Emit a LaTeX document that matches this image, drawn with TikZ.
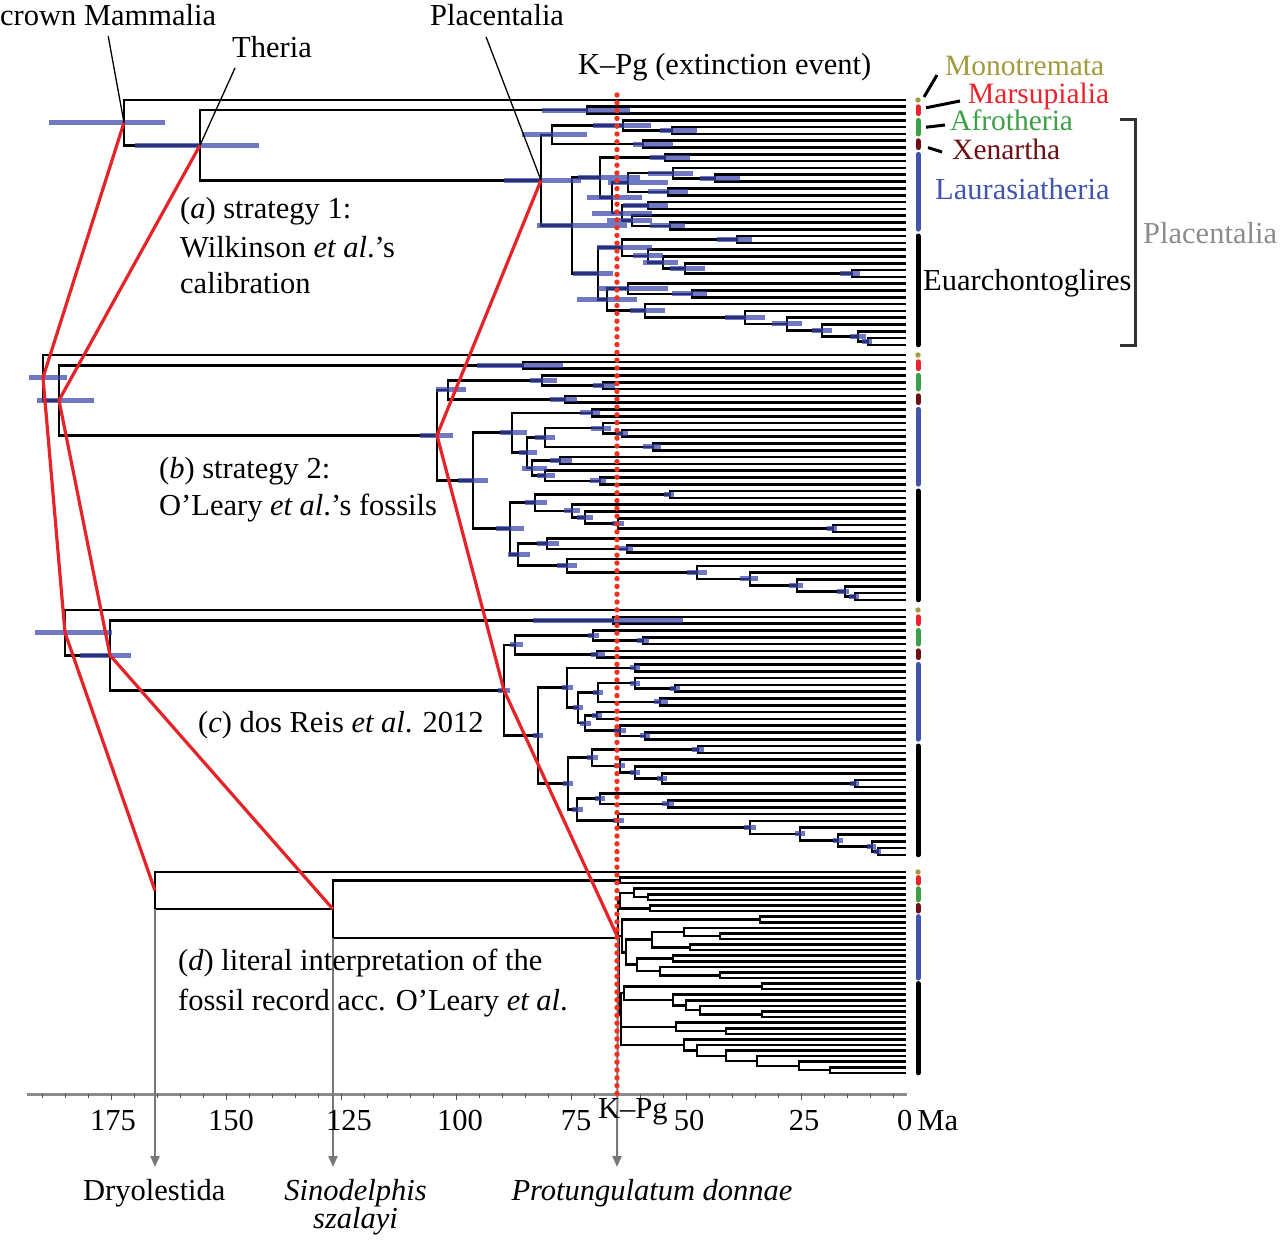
\documentclass[tikz,border=0pt]{standalone}
\usepackage{fontspec}
\setmainfont{Liberation Serif}
\usetikzlibrary{calc,arrows.meta}
\definecolor{hpdblue}{RGB}{55,68,170}
\definecolor{redline}{RGB}{230,35,40}
\definecolor{kpgred}{RGB}{240,50,30}
\definecolor{monocol}{RGB}{160,155,60}
\definecolor{marscol}{RGB}{235,35,45}
\definecolor{afrocol}{RGB}{60,160,70}
\definecolor{xencol}{RGB}{110,15,20}
\definecolor{laucol}{RGB}{65,85,175}
\definecolor{placgray}{RGB}{140,140,140}
\definecolor{bracketgray}{RGB}{50,50,50}
\definecolor{axisgray}{RGB}{140,140,140}
\definecolor{tickgray}{RGB}{80,80,80}
\definecolor{arrowgray}{RGB}{120,120,120}

\newcommand\setxs[1]{\foreach \n/\v in {#1}{\expandafter\xdef\csname xv\n\endcsname{\v}}}
\newcommand\xv[1]{\csname xv#1\endcsname}
\newcommand\inode[4]{%
  \path ($(#3)!0.5!(#4)$) coordinate (#1-m);
  \edef\tmpx{#2}%
  \coordinate (#1) at (\tmpx,0 |- #1-m);
  \draw[br] (#3) -| (#1) |- (#4);
}
\newcommand\maketree[3]{%
  \foreach \i in {0,...,36}{\coordinate (#1-t\i) at (906,{#2+#3*\i});}
  \inode{#1-MAR}{\xv{MAR}}{#1-t1}{#1-t2}
  \inode{#1-A45}{\xv{A45}}{#1-t4}{#1-t5}
  \inode{#1-AFR}{\xv{AFR}}{#1-t3}{#1-A45}
  \inode{#1-XEN}{\xv{XEN}}{#1-t6}{#1-t7}
  \inode{#1-ATL}{\xv{ATL}}{#1-AFR}{#1-XEN}
  \inode{#1-LA}{\xv{LA}}{#1-t8}{#1-t9}
  \inode{#1-LC1b}{\xv{LC1b}}{#1-t11}{#1-t12}
  \inode{#1-LC1}{\xv{LC1}}{#1-t10}{#1-LC1b}
  \inode{#1-LC2}{\xv{LC2}}{#1-t13}{#1-t14}
  \inode{#1-LC}{\xv{LC}}{#1-LC1}{#1-LC2}
  \inode{#1-LD1}{\xv{LD1}}{#1-t15}{#1-t16}
  \inode{#1-LD3}{\xv{LD3}}{#1-t18}{#1-t19}
  \inode{#1-LD2}{\xv{LD2}}{#1-t17}{#1-LD3}
  \inode{#1-LD}{\xv{LD}}{#1-LD1}{#1-LD2}
  \inode{#1-LB}{\xv{LB}}{#1-LC}{#1-LD}
  \inode{#1-LAU}{\xv{LAU}}{#1-LA}{#1-LB}
  \inode{#1-E1a}{\xv{E1a}}{#1-t20}{#1-t21}
  \inode{#1-E1e}{\xv{E1e}}{#1-t25}{#1-t26}
  \inode{#1-E1d}{\xv{E1d}}{#1-t24}{#1-E1e}
  \inode{#1-E1c}{\xv{E1c}}{#1-t23}{#1-E1d}
  \inode{#1-E1b}{\xv{E1b}}{#1-t22}{#1-E1c}
  \inode{#1-E1}{\xv{E1}}{#1-E1a}{#1-E1b}
  \inode{#1-E2a1}{\xv{E2a1}}{#1-t28}{#1-t29}
  \inode{#1-E2a}{\xv{E2a}}{#1-t27}{#1-E2a1}
  \inode{#1-E2g}{\xv{E2g}}{#1-t35}{#1-t36}
  \inode{#1-E2f}{\xv{E2f}}{#1-t34}{#1-E2g}
  \inode{#1-E2e}{\xv{E2e}}{#1-t33}{#1-E2f}
  \inode{#1-E2d}{\xv{E2d}}{#1-t32}{#1-E2e}
  \inode{#1-E2c}{\xv{E2c}}{#1-t31}{#1-E2d}
  \inode{#1-E2b}{\xv{E2b}}{#1-t30}{#1-E2c}
  \inode{#1-E2}{\xv{E2}}{#1-E2a}{#1-E2b}
  \inode{#1-EUA}{\xv{EUA}}{#1-E1}{#1-E2}
  \inode{#1-BOR}{\xv{BOR}}{#1-LAU}{#1-EUA}
  \inode{#1-PLA}{\xv{PLA}}{#1-ATL}{#1-BOR}
  \inode{#1-THE}{\xv{THE}}{#1-MAR}{#1-PLA}
  \inode{#1-MAM}{\xv{MAM}}{#1-t0}{#1-THE}
}
\newcommand\hpds[2]{\foreach \n/\lw/\rw in {#2}{\draw[hpd] ([xshift=-\lw pt]#1-\n) -- ([xshift=\rw pt]#1-\n);}}
\newcommand\groupbars[1]{%
  \fill[monocol] (918,0 |- #1-t0) circle (2.7pt);
  \draw[cb,draw=marscol] (918,0 |- #1-t1) -- (918,0 |- #1-t2);
  \draw[cb,draw=afrocol] (918,0 |- #1-t3) -- (918,0 |- #1-t5);
  \draw[cb,draw=xencol] (918,0 |- #1-t6) -- (918,0 |- #1-t7);
  \draw[cb,draw=laucol] (918,0 |- #1-t8) -- (918,0 |- #1-t19);
  \draw[cb,draw=black] (918,0 |- #1-t20) -- (918,0 |- #1-t36);
}

\begin{document}
\begin{tikzpicture}[x=1pt,y=-1pt,
  br/.style={line width=2.6pt,draw=black},
  hpd/.style={line width=5pt,draw=hpdblue,draw opacity=.72},
  redl/.style={line width=3.2pt,draw=redline},
  lead/.style={line width=1.3pt,draw=black},
  leadb/.style={line width=3pt,draw=black},
  garrow/.style={line width=2pt,draw=arrowgray,-{Triangle[length=11pt,width=9pt]}},
  tickm/.style={line width=1.5pt,draw=tickgray},
  cb/.style={line width=5pt,line cap=round},
  kdots/.style={draw=kpgred,line width=5.4pt,line cap=round,dash pattern=on 0pt off 7.8pt},
  every node/.style={font=\fontsize{30.5}{36}\selectfont},
  lbl/.style={inner sep=0pt,anchor=base west},
  clbl/.style={inner sep=0pt,anchor=base west,font=\fontsize{29.5}{34}\selectfont},
  numl/.style={inner sep=0pt,anchor=base}]
\useasboundingbox (0,0) rectangle (1280,1244);

% ---- trees ----
\setxs{MAM/124,THE/200,MAR/587,PLA/541,ATL/552,AFR/623,A45/672,XEN/643,BOR/572,LAU/600,LA/665,LB/612,LC/628,LC1/673,LC1b/715,LC2/668,LD/622,LD1/648,LD2/632,LD3/670,EUA/598,E1/622,E1a/737,E1b/648,E1c/663,E1d/685,E1e/852,E2/607,E2a/628,E2a1/692,E2b/645,E2c/745,E2d/787,E2e/822,E2f/858,E2g/868}
\maketree{a}{100}{6.8}
\setxs{MAM/43,THE/59,MAR/523,PLA/437,ATL/448,AFR/542,A45/603,XEN/565,BOR/473,LAU/512,LA/592,LB/527,LC/545,LC1/603,LC1b/622,LC2/653,LD/532,LD1/560,LD2/545,LD3/600,EUA/510,E1/535,E1a/670,E1b/572,E1c/585,E1d/618,E1e/833,E2/518,E2a/547,E2a1/627,E2b/567,E2c/697,E2d/750,E2e/797,E2f/845,E2g/855}
\maketree{b}{355}{6.8}
\setxs{MAM/65,THE/110,MAR/613,PLA/504,ATL/515,AFR/593,A45/643,XEN/597,BOR/538,LAU/567,LA/635,LB/578,LC/598,LC1/635,LC1b/675,LC2/660,LD/585,LD1/597,LD2/620,LD3/645,EUA/568,E1/592,E1a/698,E1b/620,E1c/635,E1d/662,E1e/855,E2/577,E2a/600,E2a1/668,E2b/618,E2c/750,E2d/800,E2e/838,E2f/872,E2g/878}
\maketree{c}{610}{6.8}
\setxs{MAM/155,THE/333,MAR/620,PLA/618,ATL/620,AFR/634,A45/648,XEN/650,BOR/619,LAU/622,LA/760,LB/626,LC/652,LC1/684,LC1b/720,LC2/690,LD/637,LD1/673,LD2/660,LD3/720,EUA/621,E1/624,E1a/762,E1b/673,E1c/686,E1d/700,E1e/762,E2/621,E2a/676,E2a1/726,E2b/684,E2c/697,E2d/726,E2e/757,E2f/799,E2g/830}
\maketree{d}{872}{5.58}

% ---- HPD bars ----
\hpds{a}{MAM/75/41,THE/65/59,PLA/37/40,MAR/45/43,ATL/30/35,AFR/30/28,A45/12/25,XEN/10/30,BOR/35/55,LAU/22/40,LA/15/25,LB/25/30,LC/20/40,LC1/25/20,LC1b/15/25,LC2/20/20,LD/30/30,LD1/25/20,LD2/25/20,LD3/20/15,EUA/25/15,E1/25/30,E1a/20/15,E1b/15/15,E1c/20/15,E1d/15/20,E1e/12/8,E2/30/30,E2a/30/40,E2a1/20/15,E2b/15/20,E2c/20/20,E2d/15/15,E2e/10/10,E2f/8/8,E2g/6/4}
\hpds{b}{MAM/14/24,THE/22/35,PLA/17/16,MAR/46/40,ATL/12/18,AFR/12/15,A45/10/12,XEN/15/12,BOR/15/15,LAU/12/15,LA/12/8,LB/8/10,LC/10/10,LC1/12/8,LC1b/6/6,LC2/10/8,LD/10/15,LD1/10/12,LD2/8/10,LD3/10/6,EUA/14/14,E1/10/12,E1a/6/4,E1b/8/8,E1c/8/8,E1d/6/6,E1e/6/4,E2/10/12,E2a/10/12,E2a1/8/6,E2b/10/10,E2c/10/10,E2d/10/8,E2e/8/6,E2f/8/4,E2g/6/4}
\hpds{c}{MAM/30/47,THE/30/21,MAR/80/70,PLA/6/6,ATL/5/8,AFR/5/6,A45/6/6,XEN/6/8,BOR/5/5,LAU/5/6,LA/5/5,LB/5/5,LC/5/5,LC1/5/5,LC1b/5/5,LC2/6/8,LD/5/6,LD1/5/5,LD2/6/6,LD3/5/5,EUA/5/5,E1/5/6,E1a/6/6,E1b/6/5,E1c/5/5,E1d/5/5,E1e/5/4,E2/5/6,E2a/5/5,E2a1/6/6,E2b/5/6,E2c/6/6,E2d/5/5,E2e/5/5,E2f/5/4,E2g/4/3}

% ---- clade colour bars ----
\groupbars{a}\groupbars{b}\groupbars{c}\groupbars{d}

% ---- axis ----
\coordinate (axl) at (27,1094);
\coordinate (axr) at (907,1094);
\draw[line width=3pt,draw=axisgray] (axl) -- (axr);
\foreach \k in {1,...,38}{\draw[tickm] ({916.7-23*\k},1094) -- ++(0,{ifthenelse(mod(\k,5)==0,6,3.5)});}

% ---- gray arrows ----
\coordinate (arrD) at (155,1167);
\coordinate (arrS) at (333,1167);
\coordinate (arrP) at (617,1167);
\coordinate (kpgtop) at (617,95);
\coordinate (kpgbot) at (617,1094);
\draw[garrow] (d-MAM |- d-THE) -- (arrD);
\draw[garrow] (d-THE |- d-PLA) -- (arrS);
\draw[garrow] (d-PLA) -- (arrP);

% ---- red correspondence lines ----
\draw[redl] (a-MAM) -- (b-MAM) -- (c-MAM) -- (d-MAM);
\draw[redl] (a-THE) -- (b-THE) -- (c-THE) -- (d-THE);
\draw[redl] (a-PLA) -- (b-PLA) -- (c-PLA) -- (d-PLA);

% ---- K-Pg dotted line ----
\draw[kdots] (kpgtop) -- (kpgbot);

% ---- top labels ----
\node[lbl] (crown) at (0,26) {crown Mammalia};
\node[lbl] (theria) at (232,58) {Theria};
\node[lbl] (plac) at (430,26) {Placentalia};
\node[lbl] (kpgl) at (578,75) {K–Pg (extinction event)};
\draw[lead] ([yshift=-10pt]crown.base) -- (a-MAM);
\draw[lead] ([xshift=3pt,yshift=-10pt]theria.base west) -- (a-THE);
\draw[lead] ([xshift=-11pt,yshift=-11pt]plac.base) -- (a-PLA);

% ---- clade labels ----
\node[clbl,text=monocol] (mono) at (945,76) {Monotremata};
\node[clbl,text=marscol] (mars) at (968,104) {Marsupialia};
\node[clbl,text=afrocol] (afro) at (950,131) {Afrotheria};
\node[clbl,text=xencol] (xena) at (952,160) {Xenartha};
\node[lbl,text=laucol] (laur) at (935,199) {Laurasiatheria};
\node[lbl] (euar) at (923,290) {Euarchontoglires};
\node[lbl,text=placgray] (plac2) at (1143,243) {Placentalia};
\draw[leadb] ([xshift=18pt,yshift=3pt]a-t0) -- ([xshift=-8pt,yshift=1pt]mono.base west);
\draw[leadb] ([xshift=20pt,yshift=-1pt]a-t1) -- ([xshift=-8pt,yshift=3pt]mars.base west);
\draw[leadb] ([xshift=20pt]a-t4) -- ([xshift=-5pt,yshift=6pt]afro.base west);
\draw[leadb] ([xshift=22pt]a-t7) -- ([xshift=-10pt,yshift=8pt]xena.base west);
\coordinate (brt) at (1135,120);
\coordinate (brb) at (1135,345);
\draw[line width=3pt,draw=bracketgray] ([xshift=-15pt]brt) -- (brt) -- (brb) -- ([xshift=-15pt]brb);

% ---- panel labels ----
\node[lbl] (la1) at (180,218) {(\textit{a}) strategy 1:};
\node[lbl] (la2) at (180,257) {Wilkinson \textit{et al}.’s};
\node[lbl] (la3) at (180,293) {calibration};
\node[lbl] (lb1) at (159,478) {(\textit{b}) strategy 2:};
\node[lbl] (lb2) at (159,515) {O’Leary \textit{et al}.’s fossils};
\node[lbl] (lc1) at (198,732) {(\textit{c}) dos Reis \textit{et al}. 2012};
\node[lbl] (ld1) at (178,970) {(\textit{d}) literal interpretation of the};
\node[lbl] (ld2) at (178,1010) {fossil record acc. O’Leary \textit{et al}.};

% ---- axis labels ----
\node[numl] (n175) at (113,1130) {175};
\node[numl] (n150) at (231,1130) {150};
\node[numl] (n125) at (349,1130) {125};
\node[numl] (n100) at (460,1130) {100};
\node[numl] (n75) at (576,1130) {75};
\node[numl] (n50) at (689,1130) {50};
\node[numl] (n25) at (804,1130) {25};
\node[lbl] (n0) at (897,1130) {0\hspace{5pt}Ma};
\node[lbl] (kpgax) at (598,1118) {K–Pg};

% ---- fossil labels ----
\node[lbl] (dryo) at (83,1200) {Dryolestida};
\node[numl] (sino) at (355.5,1200) {\textit{Sinodelphis}};
\node[numl] (szal) at (355.5,1228) {\textit{szalayi}};
\node[numl] (prot) at (652,1200) {\textit{Protungulatum donnae}};
\end{tikzpicture}
\end{document}
